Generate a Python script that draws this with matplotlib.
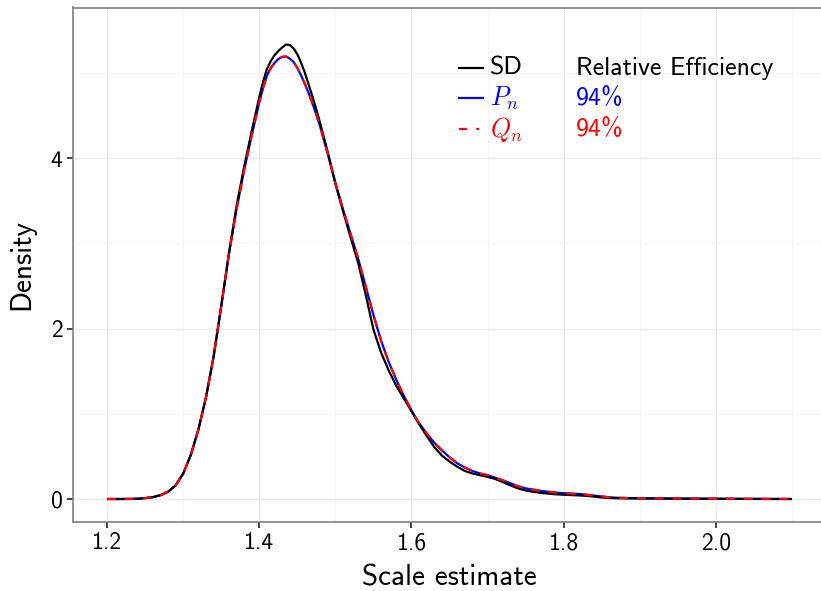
import matplotlib
matplotlib.use("Agg")
import matplotlib.pyplot as plt
from matplotlib.ticker import MultipleLocator, FixedLocator

plt.rcParams['font.family'] = ['cmss10', 'DejaVu Sans']
plt.rcParams['mathtext.fontset'] = 'cm'
plt.rcParams['axes.unicode_minus'] = False
plt.rcParams['axes.formatter.use_mathtext'] = False

# ---- data ----
x_vals = [1.20, 1.21, 1.22, 1.23, 1.24, 1.25, 1.26, 1.27, 1.28, 1.29,
          1.30, 1.31, 1.32, 1.33, 1.34, 1.35, 1.36, 1.37, 1.38, 1.39,
          1.40, 1.405, 1.41, 1.415, 1.42, 1.425, 1.43, 1.435, 1.44, 1.445,
          1.45, 1.455, 1.46, 1.465, 1.47, 1.475, 1.48, 1.49,
          1.50, 1.51, 1.52, 1.53, 1.54, 1.55, 1.56, 1.57, 1.58, 1.59,
          1.60, 1.61, 1.62, 1.63, 1.64, 1.65, 1.66, 1.67, 1.68, 1.69,
          1.70, 1.71, 1.72, 1.73, 1.74, 1.75, 1.76, 1.77, 1.78, 1.79,
          1.80, 1.81, 1.82, 1.83, 1.84, 1.85, 1.86, 1.87, 1.88, 1.89,
          1.90, 1.95, 2.00, 2.05, 2.10]

sd_density = [0.0, 0.0, 0.0, 0.001, 0.003, 0.01, 0.022, 0.045, 0.085, 0.16,
              0.30, 0.52, 0.82, 1.20, 1.68, 2.27, 2.88, 3.44, 3.90, 4.32,
              4.72, 4.90, 5.05, 5.14, 5.21, 5.26, 5.30, 5.335, 5.33, 5.29,
              5.22, 5.12, 5.00, 4.86, 4.72, 4.57, 4.41, 4.07,
              3.70, 3.38, 3.07, 2.77, 2.39, 1.99, 1.72, 1.51, 1.33, 1.18,
              1.03, 0.88, 0.74, 0.61, 0.51, 0.44, 0.38, 0.33, 0.30, 0.28,
              0.26, 0.235, 0.20, 0.16, 0.125, 0.10, 0.085, 0.072, 0.063, 0.055,
              0.05, 0.046, 0.042, 0.037, 0.028, 0.018, 0.012, 0.009, 0.008, 0.007,
              0.006, 0.004, 0.002, 0.001, 0.0]

pn_density = [0.0, 0.0, 0.0, 0.001, 0.003, 0.01, 0.022, 0.045, 0.085, 0.16,
              0.30, 0.52, 0.82, 1.20, 1.68, 2.27, 2.88, 3.40, 3.86, 4.27,
              4.66, 4.83, 4.97, 5.06, 5.12, 5.165, 5.19, 5.195, 5.17, 5.13,
              5.06, 4.97, 4.87, 4.76, 4.64, 4.51, 4.37, 4.05,
              3.71, 3.40, 3.11, 2.82, 2.49, 2.16, 1.86, 1.61, 1.40, 1.21,
              1.04, 0.89, 0.77, 0.66, 0.57, 0.49, 0.42, 0.37, 0.33, 0.30,
              0.28, 0.25, 0.22, 0.185, 0.15, 0.125, 0.11, 0.095, 0.085, 0.075,
              0.068, 0.063, 0.06, 0.05, 0.04, 0.03, 0.02, 0.015, 0.012, 0.01,
              0.009, 0.005, 0.003, 0.001, 0.0]

qn_density = [0.0, 0.0, 0.0, 0.001, 0.003, 0.01, 0.022, 0.045, 0.085, 0.16,
              0.30, 0.52, 0.82, 1.20, 1.68, 2.27, 2.88, 3.40, 3.86, 4.27,
              4.66, 4.83, 4.97, 5.06, 5.12, 5.165, 5.19, 5.195, 5.17, 5.13,
              5.06, 4.97, 4.87, 4.76, 4.64, 4.51, 4.37, 4.05,
              3.71, 3.40, 3.11, 2.82, 2.49, 2.16, 1.86, 1.61, 1.40, 1.21,
              1.04, 0.89, 0.77, 0.66, 0.57, 0.49, 0.42, 0.37, 0.33, 0.30,
              0.28, 0.25, 0.22, 0.185, 0.15, 0.125, 0.11, 0.095, 0.085, 0.075,
              0.068, 0.063, 0.06, 0.05, 0.04, 0.03, 0.02, 0.015, 0.012, 0.01,
              0.009, 0.005, 0.003, 0.001, 0.0]

series_labels = ['SD', r'$P_n$', r'$Q_n$']
efficiency_labels = ['Relative Efficiency', '94%', '94%']
x_ticks = [1.2, 1.4, 1.6, 1.8, 2.0]
x_tick_labels = ['1.2', '1.4', '1.6', '1.8', '2.0']
y_ticks = [0, 2, 4]
y_tick_labels = ['0', '2', '4']

# ---- figure ----
W, H = 821, 591
fig = plt.figure(figsize=(W / 100, H / 100), dpi=100)
left, right, top, bottom = 73, 826, 7.5, 522
ax = fig.add_axes([left / W, 1 - bottom / H, (right - left) / W, (bottom - top) / H])

lw = 1.6
dash = (4.0, 4.0)
ax.plot(x_vals, pn_density, color='#0000FF', lw=lw, solid_capstyle='butt', zorder=3)
ax.plot(x_vals, sd_density, color='black', lw=lw, solid_capstyle='butt', zorder=4)
ax.plot(x_vals, qn_density, color='#FF0000', lw=lw, dashes=dash, dash_capstyle='butt', zorder=5)

ax.set_xlim(1.155, 2.145)
ax.set_ylim(-0.27, 5.77)

ax.xaxis.set_major_locator(FixedLocator(x_ticks))
ax.set_xticklabels(x_tick_labels)
ax.yaxis.set_major_locator(FixedLocator(y_ticks))
ax.set_yticklabels(y_tick_labels)
ax.xaxis.set_minor_locator(MultipleLocator(0.1))
ax.yaxis.set_minor_locator(FixedLocator([1, 3, 5]))

ax.grid(True, which='major', color='#EBEBEB', lw=1.0, zorder=0)
ax.grid(True, which='minor', color='#F5F5F5', lw=0.8, zorder=0)
ax.set_axisbelow(True)

for s in ax.spines.values():
    s.set_color('#7F7F7F')
    s.set_linewidth(1.2)
ax.spines['right'].set_visible(False)

ax.tick_params(axis='both', which='major', length=4.5, width=1.3, color='#333333',
               labelsize=17, labelcolor='black', pad=3)
ax.tick_params(axis='both', which='minor', length=0)

ax.set_xlabel('Scale estimate', fontsize=21, color='black', labelpad=7)
ax.set_ylabel('Density', fontsize=21, color='black', labelpad=11)

# legend-like annotation
colors = ['black', '#0000FF', '#FF0000']
row_y = [5.056, 4.704, 4.34]
line_x0, line_x1 = 1.663, 1.6947
text_x, eff_x = 1.7026, 1.8158
for i in range(3):
    kw = dict(color=colors[i], lw=lw, clip_on=False, zorder=6)
    if i == 2:
        ax.plot([line_x0, line_x1], [row_y[i], row_y[i]], dashes=(3.6, 4.2, 1.2, 4.2), **kw)
    else:
        ax.plot([line_x0, line_x1], [row_y[i], row_y[i]], **kw)
    ax.text(text_x, row_y[i], series_labels[i], color=colors[i], fontsize=18.6,
            va='center', ha='left')
    ax.text(eff_x, row_y[i], efficiency_labels[i], color=colors[i], fontsize=18.6,
            va='center', ha='left')

fig.savefig('out.png', dpi=100)
